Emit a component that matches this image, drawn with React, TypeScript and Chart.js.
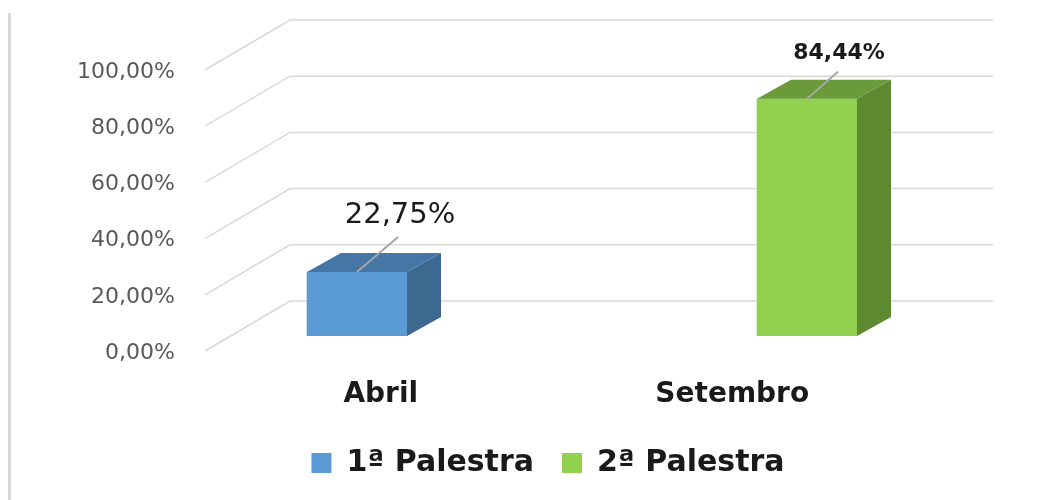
import { useEffect, useRef } from 'react';
import { Chart, registerables } from 'chart.js';

Chart.register(...registerables);

// ---- data ----
const categories = ['Abril', 'Setembro'];
const seriesNames = ['1ª Palestra', '2ª Palestra'];
const palestra1: (number | null)[] = [22.75, null];
const palestra2: (number | null)[] = [null, 84.44];
const yTickValues = [0, 20, 40, 60, 80, 100];

// ---- styles ----
const FONT = '"DejaVu Sans", Verdana, sans-serif';
const frontColors = ['#5B9BD5', '#92D050'];
const topColors = ['#4576A6', '#6A9A3A'];
const sideColors = ['#3D6991', '#5D8A31'];
const labelFontSizes = [29, 22];
const labelFontWeights = ['normal', 'bold'];
const leaderOffsets = [
  [41, -35],
  [31, -27],
];
const labelOffsets = [
  [43, -57],
  [32, -45],
];
const DEPTH_X = 34;
const DEPTH_Y = -19;
const WALL_X = 85;
const WALL_Y = -35;
const FLOOR_Y = 15;

const fmt = (v: number) => v.toFixed(2).replace('.', ',') + '%';

const toPoints = (arr: (number | null)[]) =>
  arr
    .map((v, i) => (v === null ? null : { x: i, y: v }))
    .filter((p) => p !== null) as { x: number; y: number }[];

const scene3d = {
  id: 'scene3d',
  afterLayout(chart: any) {
    const lg = chart.legend;
    if (lg) {
      lg.left = 43;
      lg.right = chart.width;
    }
  },
  beforeDatasetsDraw(chart: any) {
    const { ctx, chartArea: a, scales } = chart;
    const ys = scales.y;
    ctx.save();
    ctx.strokeStyle = '#D9D9D9';
    ctx.lineWidth = 3;
    ctx.beginPath();
    ctx.moveTo(9.5, 13);
    ctx.lineTo(9.5, chart.height);
    ctx.stroke();

    ctx.lineWidth = 1.5;
    ctx.strokeStyle = '#D9D9D9';
    ys.ticks.forEach((t: any) => {
      const py = ys.getPixelForValue(t.value);
      ctx.beginPath();
      ctx.moveTo(a.left, py + FLOOR_Y);
      ctx.lineTo(a.left + WALL_X, py + WALL_Y);
      ctx.lineTo(a.right + WALL_X, py + WALL_Y);
      ctx.stroke();
    });
    ctx.restore();
  },
  afterDatasetsDraw(chart: any) {
    const { ctx } = chart;
    ctx.save();
    chart.data.datasets.forEach((ds: any, di: number) => {
      const meta = chart.getDatasetMeta(di);
      meta.data.forEach((bar: any, i: number) => {
        const { x, y, base, width } = bar.getProps(['x', 'y', 'base', 'width'], true);
        const l = x - width / 2;
        const r = x + width / 2;
        // top face
        ctx.fillStyle = topColors[di];
        ctx.beginPath();
        ctx.moveTo(l, y);
        ctx.lineTo(l + DEPTH_X, y + DEPTH_Y);
        ctx.lineTo(r + DEPTH_X, y + DEPTH_Y);
        ctx.lineTo(r, y);
        ctx.closePath();
        ctx.fill();
        // side face
        ctx.fillStyle = sideColors[di];
        ctx.beginPath();
        ctx.moveTo(r, y);
        ctx.lineTo(r + DEPTH_X, y + DEPTH_Y);
        ctx.lineTo(r + DEPTH_X, base + DEPTH_Y);
        ctx.lineTo(r, base);
        ctx.closePath();
        ctx.fill();
        // leader line
        ctx.strokeStyle = '#A6A6A6';
        ctx.lineWidth = 2;
        ctx.beginPath();
        ctx.moveTo(x, y);
        ctx.lineTo(x + leaderOffsets[di][0], y + leaderOffsets[di][1]);
        ctx.stroke();
        // value label
        const value = ds.data[i].y;
        ctx.fillStyle = '#1A1A1A';
        ctx.font = `${labelFontWeights[di]} ${labelFontSizes[di]}px ${FONT}`;
        ctx.textAlign = 'center';
        ctx.textBaseline = 'middle';
        ctx.fillText(fmt(value), x + labelOffsets[di][0], y + labelOffsets[di][1]);
      });
    });
    ctx.restore();
  },
};

export default function App() {
  const ref = useRef<HTMLCanvasElement | null>(null);

  useEffect(() => {
    document.body.style.margin = '0';
    if (!ref.current) return;
    const chart = new Chart(ref.current, {
      type: 'bar',
      data: {
        datasets: [
          {
            label: seriesNames[0],
            data: toPoints(palestra1) as any,
            backgroundColor: frontColors[0],
            borderWidth: 0,
            xAxisID: 'xb',
            yAxisID: 'y',
            grouped: false,
            barThickness: 100,
          },
          {
            label: seriesNames[1],
            data: toPoints(palestra2) as any,
            backgroundColor: frontColors[1],
            borderWidth: 0,
            xAxisID: 'xb',
            yAxisID: 'y',
            grouped: false,
            barThickness: 100,
          },
        ],
      },
      plugins: [scene3d],
      options: {
        animation: false,
        responsive: true,
        maintainAspectRatio: false,
        events: [],
        layout: { padding: { top: 55, right: 145, bottom: 12, left: 0 } },
        plugins: {
          tooltip: { enabled: false },
          legend: {
            display: true,
            position: 'bottom',
            labels: {
              boxWidth: 20,
              boxHeight: 20,
              padding: 28,
              color: '#1A1A1A',
              font: { family: FONT, size: 30, weight: 'bold' },
            },
          },
        },
        scales: {
          x: {
            type: 'category',
            labels: categories,
            offset: true,
            position: 'bottom',
            grid: { display: false },
            border: { display: false },
            ticks: {
              color: '#1A1A1A',
              padding: 34,
              font: { family: FONT, size: 28, weight: 'bold' },
            },
            afterFit(s: any) {
              s.height = 84;
            },
          },
          xb: {
            type: 'linear',
            display: false,
            offset: false,
            min: -0.3378,
            max: 1.2244,
          },
          y: {
            type: 'linear',
            position: 'left',
            min: 0,
            max: 100,
            grid: { display: false },
            border: { display: false },
            afterBuildTicks(s: any) {
              s.ticks = yTickValues.map((v) => ({ value: v }));
            },
            ticks: {
              color: '#595959',
              padding: 22,
              labelOffset: 17,
              font: { family: FONT, size: 22 },
              callback: (v: any) => fmt(Number(v)),
            },
            afterFit(s: any) {
              s.width = 205;
            },
          },
        },
      } as any,
    });
    return () => chart.destroy();
  }, []);

  return (
    <div style={{ position: 'relative', width: 1053, height: 500 }}>
      <canvas ref={ref} />
    </div>
  );
}
